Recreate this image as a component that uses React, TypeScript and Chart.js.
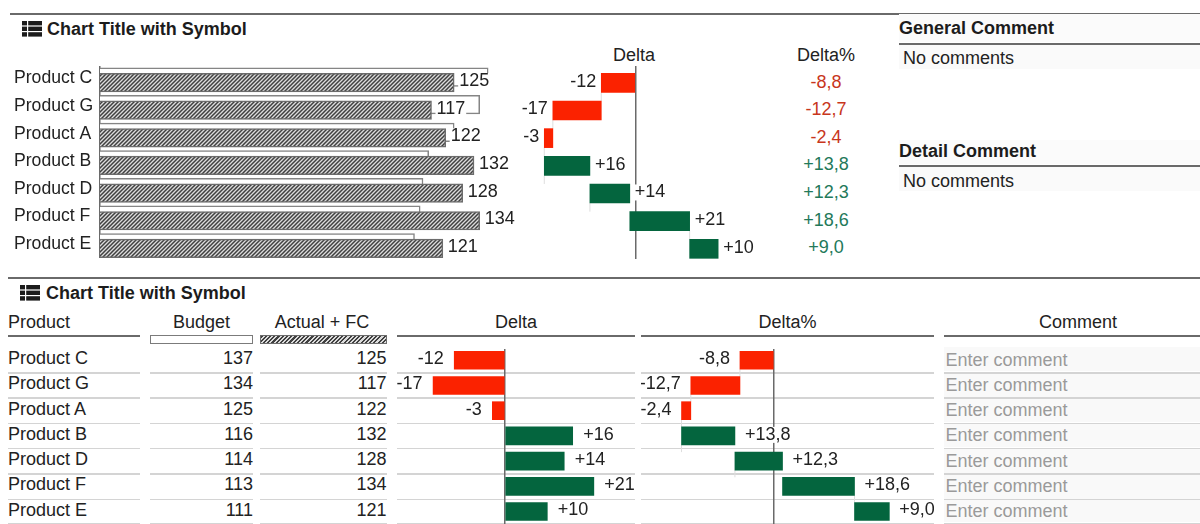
import React, { useEffect, useRef } from "react";
import { Chart, registerables } from "chart.js";

Chart.register(...registerables);

const categories = ["Product C", "Product G", "Product A", "Product B", "Product D", "Product F", "Product E"];
const budget = [137, 134, 125, 116, 114, 113, 111];
const actual = [125, 117, 122, 132, 128, 134, 121];
const delta = [-12, -17, -3, 16, 14, 21, 10];
const deltaPct = [-8.8, -12.7, -2.4, 13.8, 12.3, 18.6, 9.0];
const title = "Chart Title with Symbol";
const comment = "Enter comment";
const noComment = "No comments";

const FONT = '"Liberation Sans", Arial, sans-serif';
const SIZE = 18;
const RED = "#fb2200";
const GREEN = "#04653e";
const AXIS = "#6a6a6a";
const INK = "#222222";

const fmtDelta = (v: number) => (v > 0 ? "+" : "") + v;
const fmtPct = (v: number) => (v > 0 ? "+" : "") + v.toFixed(1).replace(".", ",");

const cumulate = (values: number[]) => {
  const out: [number, number][] = [];
  let run = 0;
  for (const v of values) {
    out.push([run, Math.round((run + v) * 10) / 10]);
    run = Math.round((run + v) * 10) / 10;
  }
  return out;
};

function hatchPattern() {
  const n = 4;
  const c = document.createElement("canvas");
  c.width = n;
  c.height = n;
  const g = c.getContext("2d")!;
  g.fillStyle = "#dcdcdc";
  g.fillRect(0, 0, n, n);
  g.strokeStyle = "#404040";
  g.lineWidth = 1.5;
  g.beginPath();
  g.moveTo(-1, n + 1);
  g.lineTo(n + 1, -1);
  g.moveTo(-1, 1);
  g.lineTo(1, -1);
  g.moveTo(n - 1, n + 1);
  g.lineTo(n + 1, n - 1);
  g.stroke();
  return g.createPattern(c, "repeat")!;
}

const labelPlugin = (labels: string[], gap: number, dy: number, values: number[]) => ({
  id: "valueLabels",
  afterDatasetsDraw(chart: any) {
    const ctx = chart.ctx;
    const meta = chart.getDatasetMeta(0);
    ctx.save();
    ctx.font = `${SIZE}px ${FONT}`;
    ctx.textBaseline = "middle";
    meta.data.forEach((el: any, i: number) => {
      const lo = Math.min(el.x, el.base);
      const hi = Math.max(el.x, el.base);
      const w = ctx.measureText(labels[i]).width;
      const left = values[i] < 0 ? lo - gap - w : hi + gap;
      ctx.fillStyle = "#ffffff";
      ctx.fillRect(left - 1, el.y + dy - 8, w + 2, 16);
      ctx.fillStyle = INK;
      ctx.textAlign = "left";
      ctx.fillText(labels[i], left, el.y + dy);
    });
    ctx.restore();
  },
});

const connectorPlugin = {
  id: "connectors",
  beforeDatasetsDraw(chart: any) {
    const ctx = chart.ctx;
    const data = chart.getDatasetMeta(0).data;
    ctx.save();
    ctx.strokeStyle = "#dedede";
    ctx.lineWidth = 1;
    for (let i = 0; i < data.length - 1; i++) {
      const a = data[i];
      const b = data[i + 1];
      ctx.beginPath();
      ctx.moveTo(a.x, a.y + a.height / 2);
      ctx.lineTo(a.x, b.y - b.height / 2);
      ctx.stroke();
    }
    ctx.restore();
  },
};

function useChart(make: (cv: HTMLCanvasElement) => Chart) {
  const ref = useRef<HTMLCanvasElement>(null);
  useEffect(() => {
    const ch = make(ref.current!);
    return () => ch.destroy();
  }, []);
  return ref;
}

const baseOptions = {
  animation: false,
  responsive: false,
  maintainAspectRatio: false,
  indexAxis: "y",
  layout: { padding: 0 },
  plugins: { legend: { display: false }, tooltip: { enabled: false } },
};

function deltaChart(
  cv: HTMLCanvasElement,
  ranges: ([number, number] | number)[],
  values: number[],
  labels: string[],
  xMin: number,
  xMax: number,
  yMin: number,
  yMax: number,
  thickness: number,
  gap: number,
  dy: number,
  waterfall: boolean
) {
  return new Chart(cv, {
    type: "bar",
    data: {
      datasets: [
        {
          data: ranges.map((r, i) => ({ x: r, y: i })) as any,
          backgroundColor: values.map((v) => (v < 0 ? RED : GREEN)),
          borderWidth: 0,
          barThickness: thickness,
          clip: false,
        } as any,
      ],
    },
    options: {
      ...baseOptions,
      scales: {
        x: {
          type: "linear",
          min: xMin,
          max: xMax,
          afterBuildTicks: (s: any) => {
            s.ticks = [{ value: 0 }];
          },
          border: { display: false },
          ticks: { display: false },
          grid: { color: AXIS, lineWidth: 1.5, drawTicks: false },
        },
        y: { type: "linear", min: yMin, max: yMax, reverse: true, display: false, offset: false },
      },
    } as any,
    plugins: [...(waterfall ? [connectorPlugin] : []), labelPlugin(labels, gap, dy, values)] as any,
  });
}

const at = (x: number, y: number, w: number, h: number): React.CSSProperties => ({
  position: "absolute",
  left: x,
  top: y,
  width: w,
  height: h,
});

const Txt = ({
  x,
  cy,
  w,
  align = "left",
  color = INK,
  bold = false,
  children,
}: {
  x: number;
  cy: number;
  w: number;
  align?: "left" | "center" | "right";
  color?: string;
  bold?: boolean;
  children: React.ReactNode;
}) => (
  <div
    style={{
      ...at(x, cy - 12, w, 24),
      lineHeight: "24px",
      textAlign: align,
      color,
      fontWeight: bold ? 700 : 400,
      whiteSpace: "nowrap",
    }}
  >
    {children}
  </div>
);

const Rule = ({ x, y, w, h = 2, color = AXIS }: { x: number; y: number; w: number; h?: number; color?: string }) => (
  <div style={{ ...at(x, y, w, h), background: color }} />
);

const Icon = ({ x, y }: { x: number; y: number }) => (
  <svg style={{ position: "absolute", left: x, top: y }} width={20} height={16} viewBox="0 0 20 16">
    {[0, 5.6, 11.2].map((t) => (
      <g key={t} fill="#1c1c1c">
        <rect x={0} y={t} width={5} height={4.4} />
        <rect x={6.2} y={t} width={13.8} height={4.4} />
      </g>
    ))}
  </svg>
);

const topRows = (i: number) => 81.5 + 27.6 * i;
const tableRows = (i: number) => 358 + 25.25 * i;
const commentRows = (i: number) => 359.5 + 25.25 * i;
const seps = [372, 397.3, 422.5, 447.8, 473.2, 498.6, 523];
const columns: [number, number][] = [
  [8, 132],
  [150, 103],
  [260, 127],
  [397, 238],
  [641, 293],
  [943.5, 257],
];

export default function App() {
  const barRef = useChart(
    (cv) =>
      new Chart(cv, {
        type: "bar",
        data: {
          datasets: [
            {
              label: "Actual + FC",
              data: actual.map((v, i) => ({ x: v, y: i + 0.2 })) as any,
              backgroundColor: hatchPattern(),
              borderColor: "#6c6c6c",
              borderWidth: 1.5,
              barThickness: 18.5,
              grouped: false,
              order: 1,
              clip: false,
            } as any,
            {
              label: "Budget",
              data: budget.map((v, i) => ({ x: v, y: i })) as any,
              backgroundColor: "#ffffff",
              borderColor: "#858585",
              borderWidth: 1.5,
              barThickness: 18.5,
              grouped: false,
              order: 2,
              clip: false,
            } as any,
          ],
        },
        options: {
          ...baseOptions,
          scales: {
            x: { type: "linear", min: 0, max: 150, display: false },
            y: {
              type: "linear",
              min: -0.4,
              max: 6.55,
              reverse: true,
              offset: false,
              afterBuildTicks: (s: any) => {
                s.ticks = categories.map((_, i) => ({ value: i + 0.05 }));
              },
              afterFit: (s: any) => {
                s.width = 86;
                s.paddingTop = 0;
                s.paddingBottom = 0;
              },
              border: { display: true, color: AXIS, width: 1.5 },
              grid: { display: false, drawTicks: false },
              ticks: {
                autoSkip: false,
                crossAlign: "far",
                color: INK,
                font: { family: FONT, size: 17.6 },
                callback: (v: number) => categories[Math.round(v)],
              },
            },
          },
        } as any,
        plugins: [labelPlugin(actual.map(String), 5, -1.5, actual)] as any,
      })
  );

  const topDeltaRef = useChart((cv) =>
    deltaChart(cv, cumulate(delta), delta, delta.map(fmtDelta), -47.54, 50.7, -0.607, 6.368, 19, 5, -1, true)
  );
  const tableDeltaRef = useChart((cv) =>
    deltaChart(cv, delta, delta, delta.map(fmtDelta), -25.53, 30.73, -0.448, 6.496, 18, 10.5, -1, false)
  );
  const tablePctRef = useChart((cv) =>
    deltaChart(cv, cumulate(deltaPct), deltaPct, deltaPct.map(fmtPct), -34.37, 41.34, -0.448, 6.496, 18, 10, -1, true)
  );

  return (
    <div
      style={{
        ...at(0, 0, 1200, 524),
        overflow: "hidden",
        background: "#fff",
        fontFamily: FONT,
        fontSize: SIZE,
        color: INK,
        filter: "blur(0.4px)",
      }}
    >
      <Rule x={10} y={12.5} w={1190} />
      <Icon x={22} y={21} />
      <Txt x={47} cy={28.5} w={260} bold color="#1c1c1c">
        {title}
      </Txt>

      <Txt x={574} cy={55} w={120} align="center">Delta</Txt>
      <Txt x={766} cy={55} w={120} align="center">Delta%</Txt>
      {deltaPct.map((v, i) => (
        <Txt key={i} x={766} cy={topRows(i)} w={120} align="center" color={v < 0 ? "#c8361c" : "#23795a"}>
          {fmtPct(v)}
        </Txt>
      ))}

      <div style={{ ...at(899, 14, 301, 28), background: "#fbfbfb" }} />
      <Txt x={899} cy={27.5} w={290} bold color="#1c1c1c">General Comment</Txt>
      <Rule x={899} y={42.5} w={301} />
      <div style={{ ...at(899, 45, 301, 24), background: "#fafafa" }} />
      <Txt x={903} cy={58} w={290}>{noComment}</Txt>

      <div style={{ ...at(899, 140, 301, 24), background: "#fbfbfb" }} />
      <Txt x={899} cy={151} w={290} bold color="#1c1c1c">Detail Comment</Txt>
      <Rule x={899} y={165} w={301} />
      <div style={{ ...at(899, 167, 301, 24), background: "#fafafa" }} />
      <Txt x={903} cy={180.5} w={290}>{noComment}</Txt>

      <Rule x={8} y={277} w={1192} />
      <Icon x={20} y={285} />
      <Txt x={46} cy={292.5} w={260} bold color="#1c1c1c">
        {title}
      </Txt>

      <Txt x={8} cy={321.5} w={130}>Product</Txt>
      <Txt x={150} cy={321.5} w={103} align="center">Budget</Txt>
      <Txt x={260} cy={321.5} w={124} align="center">Actual + FC</Txt>
      <Txt x={397} cy={321.5} w={238} align="center">Delta</Txt>
      <Txt x={641} cy={321.5} w={293} align="center">Delta%</Txt>
      <Txt x={943.5} cy={321.5} w={269} align="center">Comment</Txt>

      <Rule x={8} y={334.5} w={132} />
      <Rule x={397} y={334.5} w={238} />
      <Rule x={641} y={334.5} w={293} />
      <Rule x={943.5} y={334.5} w={257} />
      <div style={{ ...at(150, 335, 103, 9), boxSizing: "border-box", border: "1.5px solid #7b7b7b", background: "#fff" }} />
      <div
        style={{
          ...at(260, 335, 127, 9),
          boxSizing: "border-box",
          border: "1.5px solid #6c6c6c",
          background: "repeating-linear-gradient(135deg, #404040 0 1.5px, #dcdcdc 1.5px 3px)",
        }}
      />

      {categories.map((_, i) => (
        <div key={i} style={{ ...at(943.5, seps[i] - 24.6, 257, 24), background: "#f9f9f9" }} />
      ))}
      {seps.map((y) =>
        columns.map(([x, w]) => <Rule key={`${x}-${y}`} x={x} y={y} w={w} h={1.5} color="#d4d4d4" />)
      )}

      {categories.map((c, i) => (
        <React.Fragment key={c}>
          <Txt x={8} cy={tableRows(i)} w={130}>{c}</Txt>
          <Txt x={150} cy={tableRows(i)} w={103} align="right">{budget[i]}</Txt>
          <Txt x={260} cy={tableRows(i)} w={126.5} align="right">{actual[i]}</Txt>
          <Txt x={945.5} cy={commentRows(i)} w={250} color="#9a9a9a">{comment}</Txt>
        </React.Fragment>
      ))}

      <canvas ref={barRef} width={511} height={192} style={{ position: "absolute", left: 14, top: 66 }} />
      <canvas ref={topDeltaRef} width={280} height={193} style={{ position: "absolute", left: 500, top: 66 }} />
      <canvas ref={tableDeltaRef} width={238} height={175} style={{ position: "absolute", left: 397, top: 349 }} />
      <canvas ref={tablePctRef} width={293} height={175} style={{ position: "absolute", left: 641, top: 349 }} />
    </div>
  );
}
